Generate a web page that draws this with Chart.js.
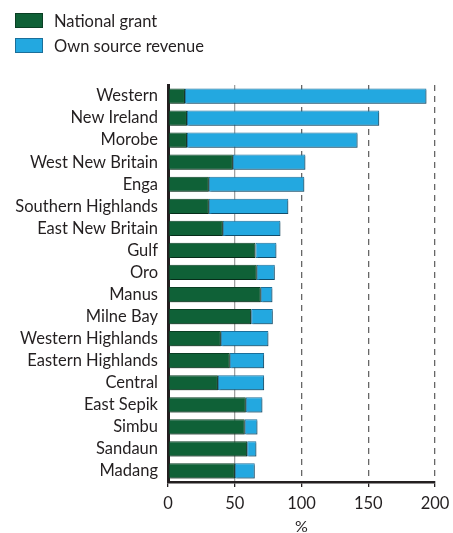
<!DOCTYPE html>
<html><head><meta charset="utf-8">
<script src="https://cdn.jsdelivr.net/npm/chart.js@4"></script>
<style>
html,body{margin:0;padding:0;background:#fff;}
#wrap{position:relative;width:453px;height:533px;}
#legend{position:absolute;left:15px;top:8px;font-family:Lato,"Open Sans",sans-serif;font-size:16.5px;color:#231f20;}
.item{display:flex;align-items:center;height:25px;}
.box{width:28px;height:15px;margin-right:11px;box-sizing:border-box;border:1px solid;}
canvas{display:block;}
</style></head><body>
<div id="wrap"><canvas id="c" width="453" height="533" style="width:453px;height:533px"></canvas><div id="legend"></div></div>
<script>
const categories = ["Western","New Ireland","Morobe","West New Britain","Enga","Southern Highlands","East New Britain","Gulf","Oro","Manus","Milne Bay","Western Highlands","Eastern Highlands","Central","East Sepik","Simbu","Sandaun","Madang"];
const nationalGrant = [12.7,14.2,14.2,48.6,30.6,30.6,41.1,65.5,66.5,69.5,62.3,39.6,46.3,37.4,58.3,57.5,59.3,50.1];
const ownSourceRevenue = [180.9,144.0,127.8,54.3,71.5,59.5,43.1,15.7,13.5,8.7,16.2,35.6,25.7,34.6,12.4,9.5,6.9,14.9];
const seriesNames = ["National grant","Own source revenue"];
const xTicks = [0,50,100,150,200];
const xTitle = "%";

const FONT = 'Lato, "Open Sans", sans-serif';
const TXT = '#231f20';
const fills = ['#0F6137','#23A8E0'];
const borders = ['#0A3F24','#1B6F9A'];

const legend = document.getElementById('legend');
seriesNames.forEach((n,i)=>{
  const d=document.createElement('div');d.className='item';
  const b=document.createElement('span');b.className='box';b.style.background=fills[i];b.style.borderColor=borders[i];
  const t=document.createElement('span');t.textContent=n;
  d.appendChild(b);d.appendChild(t);legend.appendChild(d);
});

const shadow = {
  id:'shadow',
  beforeDatasetDraw(chart){const c=chart.ctx;c.save();c.shadowColor='rgba(0,0,0,0.3)';c.shadowOffsetX=1.5;c.shadowOffsetY=1.5;c.shadowBlur=0;},
  afterDatasetDraw(chart){chart.ctx.restore();}
};

new Chart(document.getElementById('c'), {
  type:'bar',
  data:{labels:categories,datasets:[
    {label:seriesNames[0],data:nationalGrant,backgroundColor:fills[0],borderColor:borders[0],borderWidth:1,borderSkipped:false},
    {label:seriesNames[1],data:ownSourceRevenue,backgroundColor:fills[1],borderColor:borders[1],borderWidth:1,borderSkipped:false}
  ]},
  options:{
    indexAxis:'y',responsive:false,animation:false,
    layout:{padding:{top:85,right:18,bottom:0,left:0}},
    datasets:{bar:{categoryPercentage:1,barPercentage:0.69}},
    plugins:{legend:{display:false},tooltip:{enabled:false}},
    scales:{
      x:{stacked:true,min:0,max:200,
        afterBuildTicks(s){s.ticks=xTicks.map(v=>({value:v}));},
        afterFit(s){s.height=51;s.paddingRight=0;s.paddingLeft=0;},
        ticks:{font:{family:FONT,size:16.5},color:TXT,padding:7},
        grid:{color:c=>c.tick&&c.tick.value===0?'rgba(0,0,0,0)':(c.tick&&c.tick.value===50?'#a0a0a0':'#666'),lineWidth:1.3,drawTicks:true,tickLength:5,tickColor:TXT},
        border:{color:TXT,width:2.5,dash:c=>c.tick&&c.tick.value>50?[6,5]:[]},
        title:{display:true,text:xTitle,font:{family:FONT,size:16,lineHeight:0.8},color:TXT,padding:{top:0,bottom:0}}
      },
      y:{stacked:true,
        afterFit(s){s.width=168;},
        ticks:{font:{family:FONT,size:16.5},color:TXT,padding:10,autoSkip:false},
        grid:{color:'rgba(0,0,0,0)',drawTicks:false},
        border:{color:TXT,width:3}
      }
    }
  },
  plugins:[shadow]
});
</script>
</body></html>
